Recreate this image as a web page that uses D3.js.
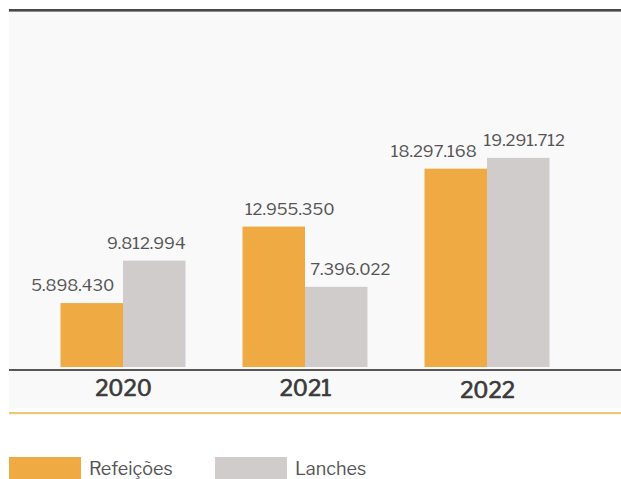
<!DOCTYPE html>
<html><head><meta charset="utf-8">
<script src="https://cdn.jsdelivr.net/npm/d3@7"></script>
<style>
html,body{margin:0;padding:0;background:#fff;}
svg{display:block;font-family:"Libre Franklin","Lato","Open Sans",sans-serif;}
</style></head>
<body>
<svg id="chart" width="621" height="479"></svg>
<script>
const years = ["2020", "2021", "2022"];
const seriesNames = ["Refeições", "Lanches"];
const refeicoes = [5898430, 12955350, 18297168];
const lanches = [9812994, 7396022, 19291712];
const valueLabels = [["5.898.430", "9.812.994"], ["12.955.350", "7.396.022"], ["18.297.168", "19.291.712"]];
const colors = ["#efaa43", "#d0cccb"];
// layout-only nudges of the value labels (px), per year & series
const labelNudge = [[-19, -8], [16, 14], [-22, 6]];

const svg = d3.select("#chart");
const W = 621, H = 479;

// panel
svg.append("rect").attr("x", 9).attr("y", 10).attr("width", W - 9).attr("height", 398).attr("fill", "#f9f9f9");
svg.append("rect").attr("x", 9).attr("y", 9).attr("width", W - 9).attr("height", 2.6).attr("fill", "#484848");
svg.append("rect").attr("x", 9).attr("y", 412).attr("width", W - 9).attr("height", 2.2).attr("fill", "#f3c57c");

const x0 = d3.scalePoint().domain(years).range([123, 487]);
const x1 = d3.scaleBand().domain(seriesNames).range([-62.5, 62.5]);
const y = d3.scaleLinear().domain([0, 20000000]).range([367, 150.2]);

const data = years.map((yr, i) => ({year: yr, vals: [refeicoes[i], lanches[i]]}));

const g = svg.selectAll("g.grp").data(data).join("g").attr("class", "grp")
  .attr("transform", d => `translate(${x0(d.year)},0)`);

g.selectAll("rect").data(d => d.vals.map((v, j) => ({v, j})))
  .join("rect")
  .attr("x", d => x1(seriesNames[d.j]))
  .attr("width", x1.bandwidth())
  .attr("y", d => y(d.v))
  .attr("height", d => y(0) - y(d.v))
  .attr("fill", d => colors[d.j]);

g.selectAll("text.val").data((d, i) => d.vals.map((v, j) => ({v, j, i})))
  .join("text").attr("class", "val")
  .attr("x", d => x1(seriesNames[d.j]) + x1.bandwidth() / 2 + labelNudge[d.i][d.j])
  .attr("y", d => y(d.v) - 12)
  .attr("text-anchor", "middle")
  .attr("font-size", 16.5)
  .attr("fill", "#555")
  .text(d => valueLabels[d.i][d.j]);

// x axis
const xAxis = d3.axisBottom(x0).tickSize(0).tickPadding(0);
const ax = svg.append("g").attr("transform", "translate(0,370)").call(xAxis);
ax.select(".domain").remove();
ax.append("line").attr("x1", 9).attr("x2", W).attr("y1", 0).attr("y2", 0).attr("stroke", "#222").attr("stroke-width", 1.5);
ax.selectAll(".tick text")
  .attr("dy", 0).attr("y", (d, i) => i === 2 ? 28 : 26)
  .attr("font-size", 22).attr("font-weight", 400)
  .attr("fill", "#3a3a3a")
  .attr("stroke", "#3a3a3a").attr("stroke-width", 0.7)
  .attr("font-family", "'Libre Franklin','Lato','Open Sans',sans-serif");

// legend
const leg = svg.append("g").attr("transform", "translate(9,457)");
const li = leg.selectAll("g").data(seriesNames).join("g")
  .attr("transform", (d, i) => `translate(${i * 206},0)`);
li.append("rect").attr("width", 72).attr("height", 22).attr("fill", (d, i) => colors[i]);
li.append("text").attr("x", 80).attr("y", 18).attr("font-size", 18).attr("fill", "#555").text(d => d);
</script>
</body></html>
